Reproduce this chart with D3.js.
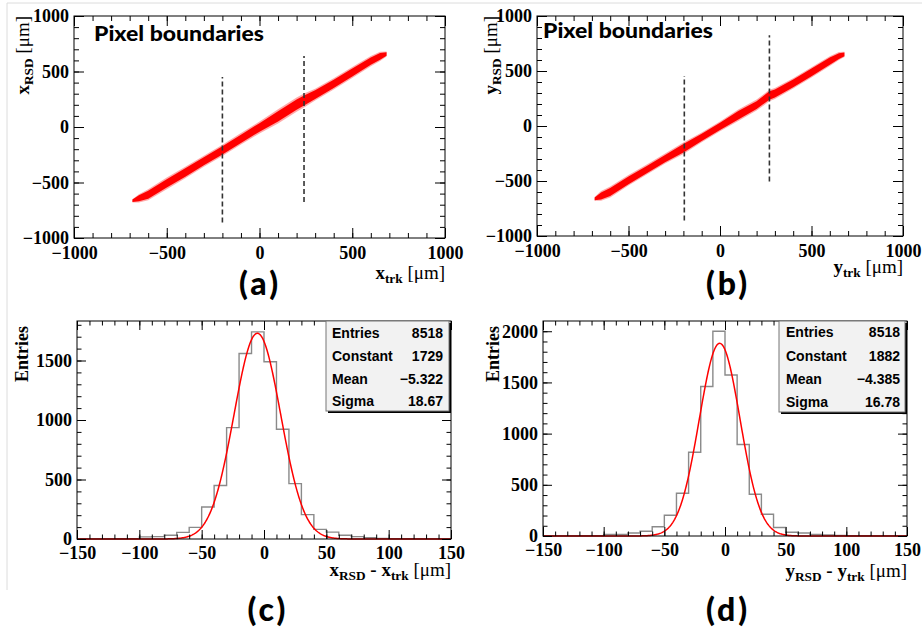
<!DOCTYPE html>
<html>
<head>
<meta charset="utf-8">
<script src="https://cdn.jsdelivr.net/npm/d3@7"></script>
<style>
  body { margin: 0; background: #fff; }
  svg { display: block; }
  .tick text { font-family: "Liberation Serif", "Times New Roman", serif; font-weight: bold; font-size: 18px; fill: #000; }
  .tick line { stroke: #000; }
  .ttl { font-family: "Liberation Serif", "Times New Roman", serif; font-weight: bold; fill: #000; }
  .geo { font-family: Lato, "Noto Sans", sans-serif; font-weight: 900; fill: #000; }
  .stat { font-family: "Liberation Sans", Arial, sans-serif; font-weight: bold; font-size: 14px; fill: #000; }
</style>
</head>
<body>
<svg id="fig" width="922" height="629"></svg>
<script>
// ---- data ----
// scatter panels: band of reconstructed vs tracker position (outer edges)
const bandAX  = [-685, -650, -600, -500, -400, -300, -200, -100,   0, 100, 200, 240, 300, 400, 500, 600, 650, 685];
const bandALo = [-680, -680, -660, -560, -462, -358, -262, -158, -58,  32, 138, 175, 238, 338, 442, 548, 595, 635];
const bandAHi = [-650, -605, -560, -455, -358, -258, -160,  -55,  50, 160, 265, 302, 345, 440, 540, 640, 678, 680];

const bandBX  = [-685, -650, -600, -500, -400, -300, -200, -100,   0, 100, 200, 270, 300, 400, 500, 600, 650, 680];
const bandBLo = [-680, -680, -650, -542, -442, -342, -255, -148, -48,  45, 140, 225, 245, 340, 440, 545, 600, 628];
const bandBHi = [-645, -592, -550, -445, -350, -250, -150,  -58,  42, 150, 240, 330, 345, 435, 535, 635, 672, 675];

// pixel boundaries (dashed lines): x position, y from, y to
const boundsA = [[-200, -860, 450], [240, -675, 640]];
const boundsB = [[-195, -860, 455], [270, -505, 825]];

// residual histograms, bins of 10 um from -150 to 150
const binStarts = [-150, -140, -130, -120, -110, -100, -90, -80, -70, -60, -50, -40, -30, -20, -10,
                   0, 10, 20, 30, 40, 50, 60, 70, 80, 90, 100, 110, 120, 130, 140];
const countsC = [0, 1, 1, 2, 3, 18, 20, 31, 56, 98, 269, 449, 936, 1559, 1741,
                 1489, 922, 465, 205, 81, 58, 31, 20, 11, 5, 3, 2, 1, 1, 0];
const countsD = [0, 1, 1, 2, 3, 16, 16, 29, 46, 90, 202, 417, 818, 1460, 2000,
                 1572, 894, 408, 213, 83, 36, 29, 16, 10, 5, 3, 2, 1, 1, 0];

// gaussian fit results (stat boxes)
const statLabels = ["Entries", "Constant", "Mean", "Sigma"];
const statC = ["8518", "1729", "\u22125.322", "18.67"];
const statD = ["8518", "1882", "\u22124.385", "16.78"];
const fitC = { constant: 1729, mean: -5.322, sigma: 18.67 };
const fitD = { constant: 1882, mean: -4.385, sigma: 16.78 };

// ticks
const scatterMajor = [-1000, -500, 0, 500, 1000];
const histXMajor = [-150, -100, -50, 0, 50, 100, 150];
const histYMajorC = [0, 500, 1000, 1500];
const histYMajorD = [0, 500, 1000, 1500, 2000];

const svg = d3.select("#fig");
const fmt = d3.format("d");

// light border of the figure
svg.append("path").attr("d", "M7,590V3H922").attr("fill", "none").attr("stroke", "#dcdcdc");

function ticks(g, x, y, w, h, xMaj, xMin, yMaj, yMin, maj, min, pad) {
  const clean = s => s.select(".domain").remove();
  g.append("g").attr("transform", `translate(0,${h})`)
    .call(d3.axisBottom(x).tickValues(xMin).tickSize(-min).tickFormat("")).call(clean);
  g.append("g").attr("transform", `translate(0,${h})`)
    .call(d3.axisBottom(x).tickValues(xMaj).tickSize(-maj).tickPadding(pad.x).tickFormat(fmt)).call(clean);
  g.append("g").call(d3.axisTop(x).tickValues(xMin).tickSize(-min).tickFormat("")).call(clean);
  g.append("g").call(d3.axisTop(x).tickValues(xMaj).tickSize(-maj).tickFormat("")).call(clean);
  g.append("g").call(d3.axisLeft(y).tickValues(yMin).tickSize(-min).tickFormat("")).call(clean);
  g.append("g").call(d3.axisLeft(y).tickValues(yMaj).tickSize(-maj).tickPadding(pad.y).tickFormat(fmt)).call(clean);
  g.append("g").attr("transform", `translate(${w},0)`)
    .call(d3.axisRight(y).tickValues(yMin).tickSize(-min).tickFormat("")).call(clean);
  g.append("g").attr("transform", `translate(${w},0)`)
    .call(d3.axisRight(y).tickValues(yMaj).tickSize(-maj).tickFormat("")).call(clean);
  g.selectAll(".tick text").attr("fill", "#000");
  g.append("rect").attr("width", w).attr("height", h).attr("fill", "none").attr("stroke", "#000");
}

// title with sub-scripted parts: parts = [[text, sub?, normal?], ...]
function title(parent, parts, size) {
  const t = parent.append("text").attr("class", "ttl").attr("text-anchor", "end");
  let low = false;
  parts.forEach(([s, sub, normal]) => {
    const ts = t.append("tspan").text(s)
      .attr("font-size", sub ? size * 0.7 : size)
      .attr("font-weight", normal ? "normal" : "bold");
    if (sub && !low) { ts.attr("dy", 4); low = true; }
    else if (!sub && low) { ts.attr("dy", -4); low = false; }
  });
  return t;
}

function scatter(box, bx, blo, bhi, bounds, xt, yt, label, tag) {
  const w = box.x1 - box.x0, h = box.y1 - box.y0;
  const g = svg.append("g").attr("transform", `translate(${box.x0},${box.y0})`);
  const x = d3.scaleLinear().domain([-1000, 1000]).range([0, w]);
  const y = d3.scaleLinear().domain([-1000, 1000]).range([h, 0]);

  const band = bx.map((v, i) => ({ x: v, lo: blo[i], hi: bhi[i] }));
  const area = d3.area().x(d => x(d.x)).y0(d => y(d.lo)).y1(d => y(d.hi));
  g.append("path").datum(band).attr("d", area).attr("fill", "#ff4040").attr("opacity", 0.45);
  const core = band.map(d => {
    const m = (d.lo + d.hi) / 2, hw = (d.hi - d.lo) / 2 * 0.72;
    return { x: d.x, lo: m - hw, hi: m + hw };
  });
  g.append("path").datum(core).attr("d", area).attr("fill", "#ff0000");

  g.selectAll("line.bnd").data(bounds).enter().append("line")
    .attr("x1", d => x(d[0])).attr("x2", d => x(d[0]))
    .attr("y1", d => y(d[1])).attr("y2", d => y(d[2]))
    .attr("stroke", "#333").attr("stroke-width", 1.6).attr("stroke-dasharray", "5,3");

  ticks(g, x, y, w, h, scatterMajor, d3.range(-1000, 1001, 100), scatterMajor, d3.range(-1000, 1001, 100),
        10, 5, { x: 8, y: 5 });

  svg.append("text").attr("class", "geo").attr("x", box.px).attr("y", box.py)
    .attr("font-size", 21).attr("textLength", 170).attr("lengthAdjust", "spacingAndGlyphs")
    .text(label);

  title(svg, xt, 19).attr("x", box.x1).attr("y", box.xty);
  title(svg, yt, 19).attr("transform", `translate(${box.ytx},${box.y0}) rotate(-90)`);

  svg.append("text").attr("class", "geo").attr("x", box.lx).attr("y", box.ly)
    .attr("text-anchor", "middle").attr("font-size", 32).attr("letter-spacing", 3).text(tag);
}

function hist(box, counts, fit, yMax, yMaj, stats, xt, tag) {
  const w = box.x1 - box.x0, h = box.y1 - box.y0;
  const g = svg.append("g").attr("transform", `translate(${box.x0},${box.y0})`);
  const x = d3.scaleLinear().domain([-150, 150]).range([0, w]);
  const y = d3.scaleLinear().domain([0, yMax]).range([h, 0]);

  const steps = binStarts.map((b, i) => ({ x: b, c: counts[i] }));
  steps.push({ x: 150, c: counts[counts.length - 1] });
  g.append("path").datum(steps)
    .attr("d", d3.line().x(d => x(d.x)).y(d => y(d.c)).curve(d3.curveStepAfter))
    .attr("fill", "none").attr("stroke", "#8a8a8a").attr("stroke-width", 1.4);

  const fx = d3.range(-150, 150.25, 0.5);
  g.append("path").datum(fx)
    .attr("d", d3.line().x(d => x(d)).y(d => y(fit.constant * Math.exp(-0.5 * ((d - fit.mean) / fit.sigma) ** 2))))
    .attr("fill", "none").attr("stroke", "#ff0000").attr("stroke-width", 1.5);

  ticks(g, x, y, w, h, histXMajor, d3.range(-150, 151, 10), yMaj, d3.range(0, yMax, 100),
        9, 4.5, { x: 7, y: 5 });

  // stat box
  const sb = box.stat;
  svg.append("rect").attr("x", sb.x0 + 2).attr("y", sb.y0 + 2).attr("width", sb.x1 - sb.x0).attr("height", sb.y1 - sb.y0)
    .attr("fill", "#000");
  svg.append("rect").attr("x", sb.x0).attr("y", sb.y0).attr("width", sb.x1 - sb.x0).attr("height", sb.y1 - sb.y0)
    .attr("fill", "#f2f2f2").attr("stroke", "#777");
  statLabels.forEach((s, i) => {
    const yy = sb.rows[i];
    svg.append("text").attr("class", "stat").attr("x", sb.lx).attr("y", yy).text(s);
    svg.append("text").attr("class", "stat").attr("x", sb.vx).attr("y", yy).attr("text-anchor", "end").text(stats[i]);
  });

  title(svg, xt, 19).attr("x", box.x1).attr("y", box.xty);
  title(svg, [["Entries"]], 18).attr("transform", `translate(${box.ytx},${box.y0 + 5}) rotate(-90)`);

  svg.append("text").attr("class", "geo").attr("x", box.lx).attr("y", box.ly)
    .attr("text-anchor", "middle").attr("font-size", 32).attr("letter-spacing", 3).text(tag);
}

const mu = "[\u03bcm]";
scatter({ x0: 74, x1: 445, y0: 16, y1: 238, px: 94, py: 41, xty: 279, ytx: 29, lx: 260, ly: 295 },
  bandAX, bandALo, bandAHi, boundsA,
  [["x"], ["trk", true], [" " + mu, false, true]],
  [["x"], ["RSD", true], [" " + mu, false, true]], "Pixel boundaries", "(a)");

scatter({ x0: 537, x1: 903, y0: 16, y1: 236, px: 543, py: 38, xty: 273, ytx: 497, lx: 728, ly: 295 },
  bandBX, bandBLo, bandBHi, boundsB,
  [["y"], ["trk", true], [" " + mu, false, true]],
  [["y"], ["RSD", true], [" " + mu, false, true]], "Pixel boundaries", "(b)");

hist({ x0: 77, x1: 451, y0: 321, y1: 539, xty: 576, ytx: 28, lx: 268, ly: 621,
       stat: { x0: 326, x1: 449, y0: 321, y1: 411, lx: 332, vx: 443, rows: [338, 361, 384, 406] } },
  countsC, fitC, 1832, histYMajorC, statC,
  [["x"], ["RSD", true], [" - ", false], ["x"], ["trk", true], [" " + mu, false, true]], "(c)");

hist({ x0: 543, x1: 907, y0: 321, y1: 536, xty: 577, ytx: 499, lx: 728, ly: 621,
       stat: { x0: 779, x1: 905, y0: 321, y1: 412, lx: 786, vx: 900, rows: [337, 361, 384, 407] } },
  countsD, fitD, 2100, histYMajorD, statD,
  [["y"], ["RSD", true], [" - ", false], ["y"], ["trk", true], [" " + mu, false, true]], "(d)");
</script>
</body>
</html>
